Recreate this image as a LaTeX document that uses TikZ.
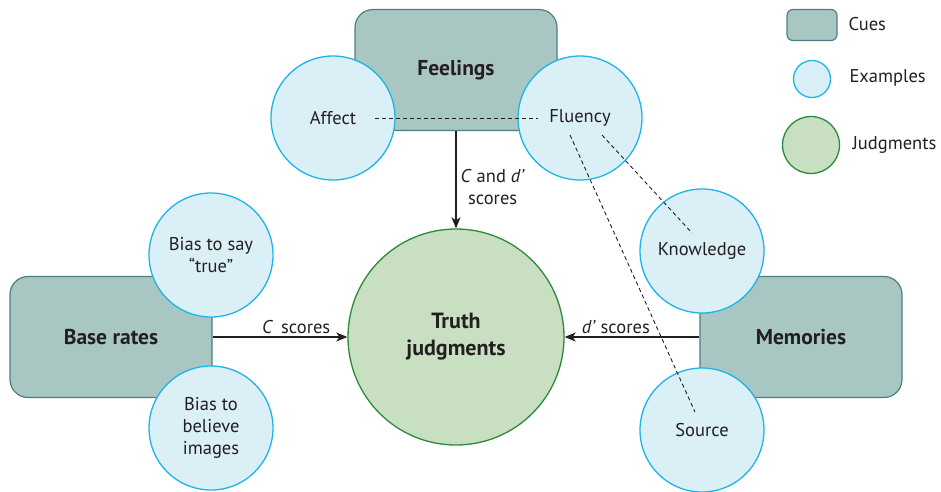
\documentclass[tikz,border=0pt]{standalone}
\usepackage{fontspec}
\setmainfont{PT Sans}
\usetikzlibrary{arrows.meta}

\definecolor{cuefill}{HTML}{A9C7C2}
\definecolor{cueline}{HTML}{4E7F86}
\definecolor{exfill}{HTML}{DAEFF6}
\definecolor{exline}{HTML}{1DB5E8}
\definecolor{judgefill}{HTML}{C9DFC1}
\definecolor{judgeline}{HTML}{2B8A3E}
\definecolor{inkgray}{HTML}{231F20}

\begin{document}
\begin{tikzpicture}
	[
		x=1pt, y=-1pt,
		font=\fontsize{18.5}{22}\selectfont,
		text=inkgray,
		link/.style={draw=inkgray, line width=1.3pt, -{Stealth[length=11pt,width=9pt,inset=3pt]}},
		hint/.style={draw=inkgray, dash pattern=on 4pt off 3pt, line width=0.9pt}
	]
	
	\tikzstyle{Cue} = [
		rectangle, 
		rounded corners=18pt, 
		minimum width=202pt, 
		minimum height=121pt, 
		draw=cueline, 
		fill=cuefill, 
		line width=1.2pt,
		font=\fontsize{21.5}{26}\selectfont\bfseries
	]
	\tikzstyle{Example} = [
		circle, 
		minimum size=124pt, 
		inner sep=0pt, 
		align=center, 
		draw=exline, 
		fill=exfill, 
		line width=1.3pt
	]
	\tikzstyle{Judgment} = [
		circle, 
		minimum size=216pt, 
		inner sep=0pt, 
		align=center, 
		draw=judgeline, 
		fill=judgefill, 
		line width=1.3pt,
		font=\fontsize{22}{27}\selectfont\bfseries
	]
	
	\useasboundingbox (0,0) rectangle (941,491);
	
	% cues
	\node [Cue] (feelings) at (456,70) {Feelings};
	\node [Cue] (baserates) at (111,337) {Base rates};
	\node [Cue] (memories) at (801,337) {Memories};
	
	% examples
	\node [Example] (affect) at (333,118) {Affect};
	\node [Example] (fluency) at (580,118) {Fluency};
	\node [Example] (saytrue) at (211,255) {Bias to say\\``true''};
	\node [Example] (images) at (211,428) {Bias to\\believe\\images};
	\node [Example] (knowledge) at (702,251) {Knowledge};
	\node [Example] (source) at (702,430) {Source};
	
	% judgment
	\node [Judgment] (truth) at (456,337) {Truth\\judgments};
	
	% arrows
	\draw [link] (feelings.south) -- node [pos=0.58, right, align=center, inner sep=4pt] {\textit{C} and \textit{d'}\\scores} (truth.north);
	\draw [link] (baserates.east) -- node [pos=0.62, above, inner sep=3pt] {\textit{C}\, scores} (truth.west);
	\draw [link] (memories.west) -- node [pos=0.62, above, inner sep=3pt] {\textit{d'} scores} (truth.east);
	
	% dashed links
	\draw [hint] ([xshift=42pt]affect.center) -- ([xshift=-42pt]fluency.center);
	\draw [hint] ([shift={(22,17)}]fluency.center) -- ([shift={(-10,-18)}]knowledge.center);
	\draw [hint] ([shift={(-10,17)}]fluency.center) -- ([shift={(-7,-18)}]source.center);
	
	% legend
	\node [Cue, minimum width=50pt, minimum height=31pt, rounded corners=6pt] (cuekey) at (812,25) {};
	\node [Example, minimum size=37pt] (examplekey) at (812,79) {};
	\node [Judgment, minimum size=57pt] (judgekey) at (811,145) {};
	\node [anchor=west] (cuetext) at (845,24) {Cues};
	\node [anchor=west] (exampletext) at (846,78) {Examples};
	\node [anchor=west] (judgetext) at (849,145) {Judgments};
\end{tikzpicture}
\end{document}
